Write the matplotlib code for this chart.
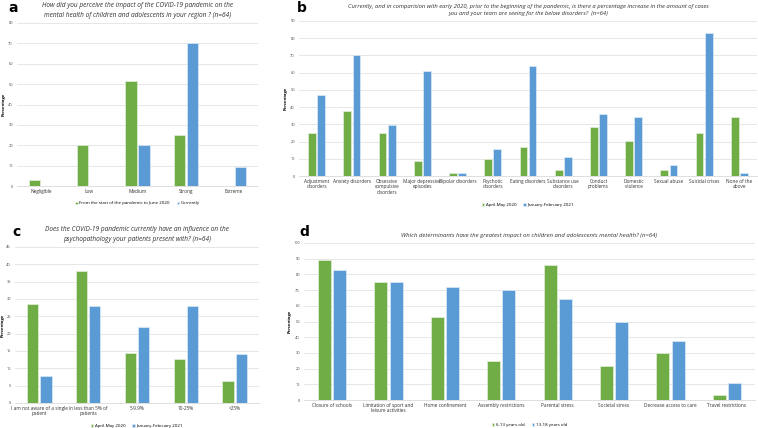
import numpy as np
import matplotlib.pyplot as plt

GREEN = '#70AD47'
BLUE = '#5B9BD5'

# panel a
a_cats = ['Negligible', 'Low', 'Medium', 'Strong', 'Extreme']
a_start = [3.1, 20.3, 51.6, 25.0, 0.0]
a_now = [0.0, 0.0, 20.3, 70.3, 9.4]

# panel b
b_cats = ['Adjustment\ndisorders', 'Anxiety disorders', 'Obsessive\ncompulsive\ndisorders',
          'Major depressive\nepisodes', 'Bipolar disorders', 'Psychotic\ndisorders',
          'Eating disorders', 'Substance use\ndisorders', 'Conduct\nproblems',
          'Domestic\nviolence', 'Sexual abuse', 'Suicidal crises', 'None of the\nabove']
b_2020 = [25.0, 37.5, 25.0, 8.5, 1.6, 10.0, 17.0, 3.5, 28.5, 20.3, 3.5, 25.0, 34.0]
b_2021 = [47.0, 70.3, 29.7, 61.0, 1.6, 15.6, 64.0, 10.9, 36.0, 34.4, 6.3, 82.8, 1.6]

# panel c
c_cats = ['I am not aware of a single\npatient', 'in less than 5% of\npatients',
          '5-9.9%', '10-25%', '>25%']
c_2020 = [28.6, 38.1, 14.3, 12.7, 6.3]
c_2021 = [7.8, 28.1, 21.9, 28.1, 14.1]

# panel d
d_cats = ['Closure of schools', 'Limitation of sport and\nleisure activities',
          'Home confinement', 'Assembly restrictions', 'Parental stress',
          'Societal stress', 'Decrease access to care', 'Travel restrictions']
d_young = [89.0, 75.0, 53.1, 25.0, 85.9, 21.9, 29.7, 3.1]
d_old = [82.8, 75.0, 71.9, 70.3, 64.1, 50.0, 37.5, 10.9]

W, H = 758, 428
fig = plt.figure(figsize=(W / 100, H / 100), dpi=100)
plt.rcParams['font.family'] = ['Open Sans', 'DejaVu Sans']


def px_axes(left, top, right, bottom):
    return fig.add_axes([left / W, 1 - bottom / H, (right - left) / W, (bottom - top) / H])


def panel(ax, cats, s1, s2, labels, ymax, step, title, bw, leg_y, tfs=4.7):
    x = np.arange(len(cats))
    ax.bar(x - bw / 2 - 0.02, s1, bw, color=GREEN, edgecolor='#E2EFDA', linewidth=0.5, label=labels[0], zorder=3)
    ax.bar(x + bw / 2 + 0.02, s2, bw, color=BLUE, edgecolor='#DDEBF7', linewidth=0.5, label=labels[1], zorder=3)
    ax.set_xlim(-0.5, len(cats) - 0.5)
    ax.set_ylim(0, ymax)
    ax.set_yticks(np.arange(0, ymax + 0.1, step))
    ax.set_xticks(x)
    ax.set_xticklabels(cats, fontsize=3.4, color='#333333', linespacing=1.1)
    ax.tick_params(axis='y', labelsize=2.8, length=0, pad=3, colors='#444444')
    ax.tick_params(axis='x', length=0, pad=2)
    ax.grid(axis='y', color='#E3E3E3', linewidth=0.6, zorder=0)
    for s in ['top', 'right', 'left']:
        ax.spines[s].set_visible(False)
    ax.spines['bottom'].set_color('#D9D9D9')
    ax.spines['bottom'].set_linewidth(0.6)
    ax.set_ylabel('Percentage', fontsize=3, fontweight='bold', labelpad=1.5)
    ax.set_title(title, fontsize=tfs, style='italic', color='#333333', pad=4, linespacing=1.6)
    ax.legend(loc='upper center', bbox_to_anchor=(0.5, leg_y), ncol=2, frameon=False,
              fontsize=3.2, handlelength=0.5, handleheight=0.5, handletextpad=0.4,
              columnspacing=1.5)


ax_a = px_axes(17, 23, 258, 186)
panel(ax_a, a_cats, a_start, a_now, ['From the start of the pandemic to June 2020', 'Currently'],
      80, 10, 'How did you perceive the impact of the COVID-19 pandemic on the\n'
      'mental health of children and adolescents in your region ? (n=64)', 0.23, -0.07)

ax_b = px_axes(299, 21, 757, 176)
panel(ax_b, b_cats, b_2020, b_2021, ['April-May 2020', 'January-February 2021'],
      90, 10, 'Currently, and in comparision with early 2020, prior to the beginning of the pandemic, '
      'is there a percentage increase in the amount of cases\n'
      'you and your team are seeing for the below disorders?  (n=64)', 0.22, -0.15, tfs=4.2)

ax_c = px_axes(15, 247, 259, 403)
panel(ax_c, c_cats, c_2020, c_2021, ['April-May 2020', 'January-February 2021'],
      45, 5, 'Does the COVID-19 pandemic currently have an influence on the\n'
      'psychopathology your patients present with? (n=64)', 0.23, -0.11)

ax_d = px_axes(304, 243, 755, 400)
panel(ax_d, d_cats, d_young, d_old, ['6-13 years old', '13-18 years old'],
      100, 10, 'Which determinants have the greatest impact on children and adolescents mental health? (n=64)',
      0.23, -0.12, tfs=4.3)

# panel letters
for letter, lx, ly in [('a', 8, 12), ('b', 297, 12), ('c', 12, 236), ('d', 299, 236)]:
    fig.text(lx / W, 1 - ly / H, letter, fontsize=10, fontweight='bold', ha='left', va='baseline',
             family='DejaVu Sans')

fig.savefig('out.png', dpi=100)
